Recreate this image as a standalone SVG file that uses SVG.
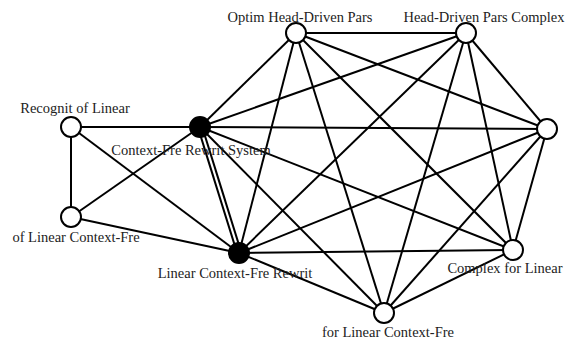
<svg xmlns="http://www.w3.org/2000/svg" width="574" height="342" viewBox="0 0 574 342">
<style>
.e{stroke:#000;stroke-width:2;fill:none}
.n{stroke:#000;stroke-width:2;fill:#fff}
.b{stroke:#000;stroke-width:2;fill:#000}
text{font-family:"Liberation Serif","Times New Roman",serif;font-size:14.5px;fill:#222;text-anchor:middle}
</style>
<rect width="574" height="342" fill="#fff"/>
<g id="connectors">
<line class="e" x1="71" y1="127" x2="200" y2="127"/>
<line class="e" x1="71" y1="127" x2="71" y2="217"/>
<line class="e" x1="71" y1="127" x2="239" y2="253"/>
<line class="e" x1="71" y1="217" x2="200" y2="127"/>
<line class="e" x1="71" y1="217" x2="239" y2="253"/>
<line class="e" stroke-width="1.6" x1="202" y1="126.4" x2="241.3" y2="252.4"/>
<line class="e" stroke-width="1.6" x1="198" y1="127.6" x2="237.3" y2="253.6"/>
<line class="e" x1="200" y1="127" x2="296" y2="33"/>
<line class="e" x1="200" y1="127" x2="466" y2="33"/>
<line class="e" x1="200" y1="127" x2="547" y2="129"/>
<line class="e" x1="200" y1="127" x2="513" y2="250"/>
<line class="e" x1="200" y1="127" x2="384" y2="313"/>
<line class="e" x1="239" y1="253" x2="296" y2="33"/>
<line class="e" x1="239" y1="253" x2="466" y2="33"/>
<line class="e" x1="239" y1="253" x2="547" y2="129"/>
<line class="e" x1="239" y1="253" x2="513" y2="250"/>
<line class="e" x1="239" y1="253" x2="384" y2="313"/>
<line class="e" x1="296" y1="33" x2="466" y2="33"/>
<line class="e" x1="296" y1="33" x2="547" y2="129"/>
<line class="e" x1="296" y1="33" x2="513" y2="250"/>
<line class="e" x1="296" y1="33" x2="384" y2="313"/>
<line class="e" x1="466" y1="33" x2="547" y2="129"/>
<line class="e" x1="466" y1="33" x2="513" y2="250"/>
<line class="e" x1="466" y1="33" x2="384" y2="313"/>
<line class="e" x1="547" y1="129" x2="513" y2="250"/>
<line class="e" x1="547" y1="129" x2="384" y2="313"/>
<line class="e" x1="513" y1="250" x2="384" y2="313"/>
</g>
<g id="n-optim"><circle class="n" cx="296" cy="33" r="10"/><text x="300" y="22">Optim Head-Driven Pars</text></g>
<g id="n-hdpc"><circle class="n" cx="466" cy="33" r="10"/><text x="484" y="22">Head-Driven Pars Complex</text></g>
<g id="n-right"><circle class="n" cx="547" cy="129" r="10"/></g>
<g id="n-complex"><circle class="n" cx="513" cy="250" r="10"/><text x="505" y="273">Complex for Linear</text></g>
<g id="n-forlinear"><circle class="n" cx="384" cy="313" r="10"/><text x="388" y="337">for Linear Context-Fre</text></g>
<g id="n-lcfr"><circle class="b" cx="239" cy="253" r="10"/><text x="235" y="278">Linear Context-Fre Rewrit</text></g>
<g id="n-oflinear"><circle class="n" cx="71" cy="217" r="10"/><text x="76" y="242">of Linear Context-Fre</text></g>
<g id="n-recognit"><circle class="n" cx="71" cy="127" r="10"/><text x="75" y="113">Recognit of Linear</text></g>
<g id="n-cfrs"><circle class="b" cx="200" cy="127" r="10"/><text x="191" y="155">Context-Fre Rewrit System</text></g>
</svg>
